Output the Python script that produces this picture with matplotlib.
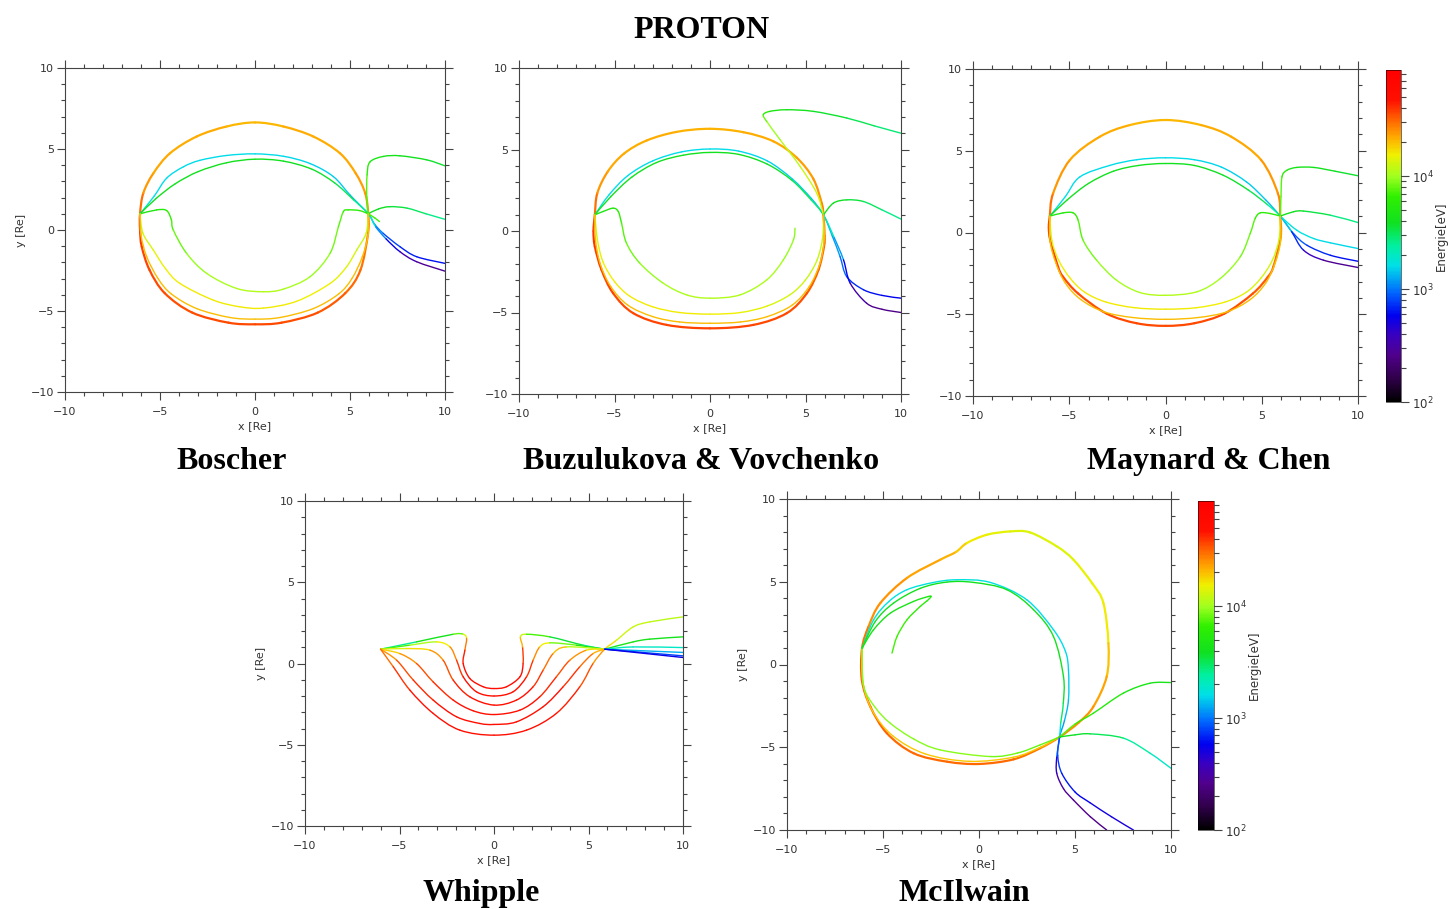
import numpy as np
import matplotlib
matplotlib.use("Agg")
import matplotlib.pyplot as plt
from matplotlib.collections import PatchCollection
from matplotlib.patches import PathPatch
from matplotlib.path import Path
from matplotlib.colors import LinearSegmentedColormap, LogNorm
from matplotlib.cm import ScalarMappable
from matplotlib.ticker import MultipleLocator, NullFormatter

# energy range of the colour scale [eV]
E_MIN, E_MAX = 1e2, 8.7e4

# proton drift paths, one list per field model: each path is a list of (x [Re], y [Re], energy [eV])
boscher = [
    [(-6.05, 1.0, 3.4e4), (-5.88, 2.27, 2.6e4), (-5.35, 3.5, 2.3e4), (-4.47, 4.74, 2.2e4), (-3.07, 5.77, 2.2e4),
     (-1.49, 6.39, 2.1e4), (0, 6.64, 2.0e4), (1.49, 6.39, 2.1e4), (3.07, 5.77, 2.2e4), (4.47, 4.74, 2.2e4),
     (5.3, 3.5, 2.3e4), (5.8, 2.27, 2.4e4), (5.96, 1.0, 2.6e4), (5.95, -0.2, 2.8e4), (5.55, -2.47, 3.0e4),
     (4.75, -3.9, 3.2e4), (3.3, -5.1, 3.4e4), (1.4, -5.72, 3.5e4), (0, -5.82, 3.6e4), (-1.4, -5.72, 3.6e4),
     (-3.3, -5.1, 3.5e4), (-4.75, -3.9, 3.5e4), (-5.55, -2.47, 3.6e4), (-5.96, -1.03, 3.8e4), (-6.05, 0.0, 4.0e4),
     (-6.05, 1.0, 3.4e4)],
    [(-6.05, 1.0, 1.7e3), (-5.3, 2.1, 1.6e3), (-4.65, 3.2, 1.6e3), (-3.77, 3.9, 1.6e3), (-2.9, 4.3, 1.6e3),
     (-1.5, 4.6, 1.6e3), (0, 4.7, 1.6e3), (1.5, 4.55, 1.6e3), (2.9, 4.1, 1.5e3), (4.12, 3.3, 1.5e3),
     (5.0, 2.16, 1.4e3), (5.96, 1.0, 1.3e3), (6.3, 0.35, 1.2e3), (6.75, -0.21, 9e2), (7.63, -1.03, 7e2),
     (8.51, -1.65, 6.5e2), (10, -2.06, 6e2)],
    [(-6.05, 1.0, 4e3), (-5.2, 1.95, 4e3), (-4.2, 2.85, 4e3), (-3.0, 3.6, 4e3), (-1.5, 4.15, 4e3),
     (0, 4.37, 4e3), (1.5, 4.25, 4e3), (3.0, 3.75, 3.8e3), (4.2, 2.9, 3.5e3), (5.2, 1.85, 3e3),
     (5.96, 1.0, 2.2e3), (6.35, 0.2, 1.5e3), (6.9, -0.55, 8e2), (7.63, -1.34, 4e2), (8.51, -1.96, 3e2),
     (10, -2.54, 2.6e2)],
    [(5.96, 1.0, 7e3), (5.88, 2.06, 8e3), (5.9, 3.4, 7e3), (6.05, 4.2, 5e3), (6.75, 4.54, 4.5e3),
     (7.63, 4.58, 4.2e3), (9.04, 4.33, 3.8e3), (10, 3.96, 3.5e3)],
    [(5.96, 1.0, 4e3), (6.5, 1.3, 4e3), (7.1, 1.44, 3.8e3), (8.0, 1.35, 3.3e3), (9.0, 1.0, 2.8e3), (10, 0.66, 2.5e3)],
    [(5.96, 1.0, 7e3), (6.3, 0.75, 7e3), (6.55, 0.52, 7e3)],
    [(-6.05, 1.0, 5e3), (-5.18, 1.24, 5e3), (-4.65, 1.2, 6e3), (-4.4, 0.62, 7e3), (-4.3, 0.0, 7.5e3),
     (-3.6, -1.44, 9e3), (-2.54, -2.68, 1.0e4), (-0.96, -3.61, 1.1e4), (0.44, -3.81, 1.1e4), (1.49, -3.65, 1.1e4),
     (2.89, -2.89, 1.0e4), (3.95, -1.44, 9e3), (4.39, 0.2, 8e3), (4.65, 1.13, 7e3), (4.9, 1.24, 6e3),
     (5.5, 1.2, 6e3), (5.96, 1.0, 6e3)],
    [(-6.05, 1.0, 1.2e4), (-5.9, -0.2, 1.3e4), (-5.35, -1.24, 1.4e4), (-4.7, -2.4, 1.5e4), (-3.95, -3.3, 1.6e4),
     (-2.19, -4.33, 1.6e4), (-0.79, -4.74, 1.6e4), (0.44, -4.82, 1.6e4), (2.19, -4.4, 1.6e4), (3.95, -3.3, 1.5e4),
     (4.8, -2.3, 1.4e4), (5.35, -1.24, 1.3e4), (5.85, -0.2, 1.2e4), (5.96, 1.0, 1.2e4)],
    [(-6.05, 1.0, 2e4), (-6.0, -0.3, 2e4), (-5.7, -1.65, 2e4), (-5.1, -3.0, 2e4), (-4.4, -3.95, 2e4),
     (-3.07, -4.85, 2e4), (-1.32, -5.4, 2e4), (0, -5.5, 2e4), (1.32, -5.4, 2e4), (3.07, -4.85, 2e4),
     (4.4, -3.95, 2e4), (5.1, -3.0, 2e4), (5.65, -1.65, 2e4), (5.95, -0.3, 2e4), (5.96, 1.0, 2e4)],
]

buzulukova = [
    [(-6.03, 0.99, 3.4e4), (-5.9, 2.32, 2.6e4), (-5.35, 3.65, 2.3e4), (-4.5, 4.75, 2.2e4), (-3.32, 5.55, 2.2e4),
     (-1.75, 6.08, 2.1e4), (0, 6.27, 2.1e4), (1.75, 6.06, 2.1e4), (3.32, 5.5, 2.2e4), (4.54, 4.5, 2.3e4),
     (5.41, 3.2, 2.4e4), (5.85, 1.7, 2.6e4), (5.94, 0.99, 2.8e4), (6.0, -0.3, 3.0e4), (5.97, -0.95, 3.1e4),
     (5.68, -2.38, 3.3e4), (5.07, -3.82, 3.4e4), (4.02, -5.04, 3.5e4), (2.27, -5.76, 3.6e4), (0, -5.97, 3.7e4),
     (-2.27, -5.76, 3.7e4), (-4.02, -5.04, 3.6e4), (-5.07, -3.82, 3.6e4), (-5.68, -2.38, 3.7e4),
     (-6.03, -0.95, 3.9e4), (-6.1, 0.0, 4.0e4), (-6.03, 0.99, 3.4e4)],
    [(-6.03, 0.99, 1.7e3), (-5.3, 2.2, 1.6e3), (-4.3, 3.4, 1.6e3), (-3.0, 4.3, 1.6e3), (-1.5, 4.85, 1.6e3),
     (0, 5.03, 1.6e3), (1.5, 4.9, 1.6e3), (3.0, 4.3, 1.5e3), (4.3, 3.2, 1.5e3), (5.3, 2.0, 1.4e3),
     (5.94, 0.99, 1.4e3), (6.4, -0.3, 1.3e3), (6.81, -1.57, 1.1e3), (7.16, -2.8, 8e2), (8.03, -3.6, 6.5e2),
     (9.0, -3.95, 6e2), (10, -4.12, 5.5e2)],
    [(-6.03, 0.99, 4e3), (-5.2, 2.1, 4e3), (-4.1, 3.3, 4e3), (-2.8, 4.2, 4e3), (-1.4, 4.65, 4e3),
     (0, 4.82, 4e3), (1.5, 4.7, 4e3), (3.0, 4.1, 3.8e3), (4.3, 3.1, 3.5e3), (5.3, 1.9, 3e3),
     (5.94, 0.99, 2.5e3), (6.5, -0.4, 1.6e3), (6.99, -1.77, 9e2), (7.34, -3.2, 4e2), (8.2, -4.43, 2.8e2),
     (9.0, -4.8, 2.6e2), (10, -5.0, 2.5e2)],
    [(5.94, 0.99, 1.3e4), (5.59, 2.32, 1.3e4), (4.72, 3.96, 1.2e4), (3.67, 5.6, 1.1e4), (2.97, 6.72, 9e3),
     (2.79, 7.13, 7e3), (3.14, 7.34, 5e3), (4.02, 7.44, 4.5e3), (5.41, 7.34, 4e3), (7.16, 6.93, 3.5e3),
     (8.6, 6.45, 3e3), (10, 6.0, 2.7e3)],
    [(5.94, 0.99, 4e3), (6.46, 1.71, 4e3), (7.16, 1.91, 3.8e3), (8.03, 1.81, 3.3e3), (9.0, 1.3, 2.8e3),
     (10, 0.73, 2.5e3)],
    [(-6.03, 0.99, 5e3), (-5.59, 1.2, 5e3), (-5.07, 1.4, 5e3), (-4.8, 1.19, 6e3), (-4.63, 0.48, 7e3),
     (-4.37, -0.75, 8e3), (-3.67, -1.98, 9e3), (-2.45, -3.2, 1e4), (-1.22, -3.92, 1.1e4), (0, -4.12, 1.1e4),
     (1.57, -3.92, 1.1e4), (2.97, -3.0, 1.05e4), (3.84, -1.77, 1e4), (4.37, -0.54, 9e3), (4.45, 0.17, 9e3)],
    [(-6.03, 0.99, 1.2e4), (-5.9, -0.5, 1.4e4), (-5.6, -1.9, 1.5e4), (-5.0, -3.1, 1.6e4), (-4.2, -4.0, 1.6e4),
     (-3.0, -4.65, 1.6e4), (-1.6, -5.0, 1.6e4), (0, -5.1, 1.6e4), (1.6, -5.0, 1.5e4), (3.0, -4.6, 1.4e4),
     (4.2, -3.9, 1.3e4), (5.0, -3.0, 1.25e4), (5.6, -1.8, 1.2e4), (5.9, -0.4, 1.2e4), (5.94, 0.99, 1.2e4)],
    [(-6.03, 0.99, 2e4), (-6.0, -0.5, 2e4), (-5.75, -2.0, 2e4), (-5.2, -3.4, 2e4), (-4.3, -4.55, 2e4),
     (-3.0, -5.25, 2e4), (-1.6, -5.58, 2e4), (0, -5.66, 2e4), (1.6, -5.58, 2e4), (3.0, -5.25, 2e4),
     (4.3, -4.55, 2e4), (5.2, -3.4, 2e4), (5.75, -2.0, 2e4), (5.98, -0.5, 2e4), (5.94, 0.99, 2e4)],
]

maynard = [
    [(-6.01, 1.0, 3.4e4), (-5.84, 2.39, 2.6e4), (-4.97, 4.43, 2.3e4), (-3.41, 5.86, 2.2e4), (-1.85, 6.57, 2.1e4),
     (0, 6.88, 2.0e4), (1.85, 6.57, 2.1e4), (3.41, 5.86, 2.2e4), (4.97, 4.43, 2.3e4), (5.84, 2.39, 2.5e4),
     (5.96, 1.0, 2.7e4), (5.98, -0.3, 2.9e4), (5.6, -2.1, 3.1e4), (5.32, -2.71, 3.2e4), (4.54, -3.73, 3.4e4),
     (3.06, -4.96, 3.5e4), (1.5, -5.55, 3.6e4), (0, -5.71, 3.6e4), (-1.5, -5.55, 3.6e4), (-3.06, -4.96, 3.5e4),
     (-4.54, -3.73, 3.5e4), (-5.32, -2.71, 3.6e4), (-5.58, -2.1, 3.7e4), (-5.98, -0.5, 3.9e4),
     (-6.06, 0.3, 4.0e4), (-6.01, 1.0, 3.4e4)],
    [(-6.01, 1.0, 1.7e3), (-5.2, 2.2, 1.6e3), (-4.45, 3.4, 1.6e3), (-2.9, 4.1, 1.6e3), (-1.5, 4.45, 1.6e3),
     (0, 4.57, 1.6e3), (1.5, 4.45, 1.6e3), (2.9, 4.0, 1.5e3), (4.2, 3.1, 1.5e3), (5.2, 2.0, 1.4e3),
     (5.96, 1.0, 1.3e3), (6.65, -0.06, 1e3), (7.35, -0.78, 8e2), (8.56, -1.39, 6.5e2), (10, -1.76, 6e2)],
    [(-6.01, 1.0, 4e3), (-5.1, 2.0, 4e3), (-4.0, 3.0, 4e3), (-2.7, 3.75, 4e3), (-1.4, 4.1, 4e3),
     (0, 4.22, 4e3), (1.5, 4.1, 4e3), (3.0, 3.5, 3.8e3), (4.3, 2.6, 3.5e3), (5.3, 1.7, 3e3),
     (5.96, 1.0, 2e3), (6.55, 0.05, 1e3), (7.17, -1.08, 5e2), (8.2, -1.69, 3e2), (10, -2.14, 2.6e2)],
    [(5.96, 1.0, 1.8e3), (6.82, 0.14, 1.7e3), (7.7, -0.37, 1.6e3), (8.56, -0.63, 1.6e3), (10, -0.98, 1.5e3)],
    [(5.96, 1.0, 7e3), (6.0, 2.2, 8e3), (6.05, 3.4, 7e3), (6.3, 3.8, 5e3), (6.82, 3.98, 4.5e3),
     (7.7, 3.98, 4.2e3), (8.8, 3.75, 3.8e3), (10, 3.47, 3.5e3)],
    [(5.96, 1.0, 4e3), (6.65, 1.27, 4e3), (7.17, 1.31, 3.8e3), (8.56, 1.06, 3e3), (10, 0.61, 2.4e3)],
    [(-6.01, 1.0, 5e3), (-5.32, 1.2, 5e3), (-4.8, 1.2, 6e3), (-4.54, 0.76, 7e3), (-4.28, -0.47, 8e3),
     (-3.58, -1.69, 9e3), (-2.54, -2.92, 1e4), (-1.33, -3.67, 1.1e4), (0, -3.84, 1.1e4), (1.62, -3.63, 1.1e4),
     (2.84, -2.82, 1e4), (3.88, -1.49, 9e3), (4.4, -0.06, 8e3), (4.66, 0.86, 7e3), (4.92, 1.2, 6e3),
     (5.44, 1.16, 6e3), (5.96, 1.0, 6e3)],
    [(-6.01, 1.0, 1.2e4), (-5.9, -0.5, 1.4e4), (-5.55, -1.7, 1.5e4), (-4.95, -2.8, 1.6e4), (-4.2, -3.65, 1.6e4),
     (-3.1, -4.25, 1.6e4), (-1.6, -4.6, 1.6e4), (0, -4.69, 1.6e4), (1.6, -4.6, 1.6e4), (3.1, -4.25, 1.5e4),
     (4.2, -3.65, 1.4e4), (4.95, -2.8, 1.3e4), (5.55, -1.7, 1.3e4), (5.9, -0.4, 1.2e4), (5.96, 1.0, 1.2e4)],
    [(-6.01, 1.0, 2e4), (-6.0, -0.5, 2e4), (-5.7, -1.85, 2e4), (-5.2, -3.1, 2e4), (-4.4, -4.1, 2e4),
     (-3.2, -4.85, 2e4), (-1.7, -5.2, 2e4), (0, -5.31, 2e4), (1.7, -5.2, 2e4), (3.2, -4.85, 2e4),
     (4.4, -4.1, 2e4), (5.2, -3.1, 2e4), (5.7, -1.85, 2e4), (5.98, -0.5, 2e4), (5.96, 1.0, 2e4)],
]

whipple = [
    [(-6.0, 0.88, 2.2e3), (-4.1, 1.33, 3e3), (-2.16, 1.8, 6e3), (-1.63, 1.8, 1e4), (-1.45, 1.54, 2e4),
     (-1.54, 0.82, 4e4), (-1.63, 0.0, 5e4), (-1.28, -0.92, 5.5e4), (-0.57, -1.43, 5.5e4), (0, -1.54, 5.5e4),
     (0.66, -1.43, 5.5e4), (1.37, -0.82, 5.5e4), (1.54, 0.0, 5e4), (1.51, 1.02, 3e4), (1.4, 1.64, 1.5e4),
     (1.72, 1.8, 1e4), (2.95, 1.64, 5e3), (4.71, 1.13, 2.5e3), (5.86, 0.88, 2e3)],
    [(-6.0, 0.88, 6e3), (-4.45, 1.13, 9e3), (-3.04, 1.33, 1.2e4), (-2.33, 1.02, 2e4), (-1.98, 0.2, 3.5e4),
     (-1.63, -0.82, 4.5e4), (-0.93, -1.74, 5e4), (0, -2.0, 5e4), (1.01, -1.74, 5e4), (1.72, -0.82, 4.5e4),
     (2.07, 0.2, 3.5e4), (2.42, 1.02, 2e4), (2.95, 1.27, 1.2e4), (4.36, 1.13, 6e3), (5.86, 0.88, 4e3)],
    [(-6.0, 0.88, 1.2e4), (-4.63, 0.92, 1.5e4), (-3.39, 0.82, 2e4), (-2.69, 0.2, 3e4), (-2.16, -1.02, 4e4),
     (-1.28, -2.05, 5e4), (0, -2.56, 5e4), (1.19, -2.25, 5e4), (2.07, -1.43, 4.5e4), (2.6, -0.41, 3.5e4),
     (3.13, 0.61, 2.5e4), (3.83, 1.02, 1.6e4), (5.86, 0.88, 8e3)],
    [(-6.0, 0.88, 1.6e4), (-4.98, 0.61, 2e4), (-4.1, 0.0, 3e4), (-3.22, -1.13, 4e4), (-2.16, -2.25, 4.5e4),
     (-1.1, -2.91, 5e4), (0, -3.14, 5e4), (1.37, -2.87, 5e4), (2.42, -2.05, 4.5e4), (3.3, -0.82, 4e4),
     (4.01, 0.2, 3e4), (4.89, 0.82, 2e4), (5.86, 0.88, 1.4e4)],
    [(-6.0, 0.88, 2e4), (-5.15, 0.2, 3e4), (-4.27, -1.02, 4e4), (-3.22, -2.25, 4.5e4), (-1.98, -3.28, 5e4),
     (-0.75, -3.69, 5e4), (0, -3.75, 5.5e4), (1.19, -3.59, 5e4), (2.6, -2.66, 5e4), (3.66, -1.43, 4.5e4),
     (4.54, -0.2, 3.5e4), (5.24, 0.61, 2.5e4), (5.86, 0.88, 1.8e4)],
    [(-6.0, 0.88, 2.5e4), (-5.33, -0.2, 3.5e4), (-4.45, -1.64, 4.5e4), (-3.22, -3.07, 5e4), (-1.81, -4.1, 5e4),
     (0, -4.41, 5e4), (1.72, -4.1, 5e4), (3.3, -3.07, 5e4), (4.54, -1.43, 4e4), (5.24, 0.0, 3e4),
     (5.86, 0.88, 2e4), (6.48, 1.43, 1.4e4), (7.36, 2.25, 1.2e4), (8.24, 2.56, 1.2e4), (10, 2.87, 1.1e4)],
    [(5.86, 0.88, 5e3), (7.36, 1.33, 4.5e3), (8.24, 1.5, 4.5e3), (10, 1.64, 4e3)],
    [(5.86, 0.88, 2.2e3), (7.36, 1.02, 2e3), (10, 0.98, 1.9e3)],
    [(5.86, 0.88, 1.4e3), (10, 0.68, 1.2e3)],
    [(5.86, 0.88, 9e2), (10, 0.47, 7e2)],
    [(5.86, 0.88, 6e2), (10, 0.37, 5e2)],
]

mcilwain = [
    [(-6.09, 0.99, 3.2e4), (-5.75, 2.3, 2.6e4), (-5.14, 3.71, 2.5e4), (-3.75, 5.23, 2.4e4), (-2.02, 6.33, 2.2e4),
     (-1.2, 6.8, 2.0e4), (-0.63, 7.34, 1.7e4), (0.41, 7.84, 1.5e4), (1.62, 8.04, 1.4e4), (2.66, 7.98, 1.4e4),
     (4.05, 7.14, 1.4e4), (4.92, 6.33, 1.4e4), (5.9, 4.9, 1.5e4), (6.48, 3.71, 1.5e4), (6.74, 1.29, 1.7e4),
     (6.65, -0.73, 2.2e4), (5.96, -2.54, 2.4e4), (5.2, -3.5, 2.5e4), (4.2, -4.38, 2.6e4), (3.18, -5.06, 2.8e4),
     (1.8, -5.73, 3.0e4), (0, -6.01, 3.1e4), (-1.67, -5.87, 3.1e4), (-3.41, -5.36, 3.1e4), (-4.8, -4.15, 3.1e4),
     (-5.66, -2.54, 3.2e4), (-6.1, -0.93, 3.4e4), (-6.09, 0.99, 3.2e4)],
    [(-6.09, 0.99, 1.9e4), (-6.05, -1.1, 1.9e4), (-5.55, -2.8, 1.9e4), (-4.5, -4.3, 1.9e4), (-2.8, -5.4, 1.9e4),
     (-0.5, -5.85, 1.9e4), (1.8, -5.6, 1.9e4), (3.2, -5.0, 1.9e4), (4.2, -4.38, 1.9e4)],
    [(-6.09, 0.99, 9e3), (-6.0, -1.33, 9e3), (-5.4, -2.6, 9e3), (-4.62, -3.55, 9e3), (-3.4, -4.5, 9e3),
     (-2.02, -5.16, 9e3), (0.58, -5.56, 9e3), (2.0, -5.35, 8e3), (3.18, -4.86, 8e3), (4.2, -4.38, 8e3)],
    [(-6.09, 0.99, 1.7e3), (-5.49, 2.7, 1.7e3), (-4.7, 3.8, 1.7e3), (-3.75, 4.52, 1.7e3), (-2.4, 4.95, 1.7e3),
     (-1.15, 5.12, 1.7e3), (0.58, 4.96, 1.7e3), (2.49, 3.91, 1.6e3), (3.88, 2.1, 1.6e3), (4.5, 0.8, 1.6e3),
     (4.66, -0.32, 1.5e3), (4.66, -2.14, 1.4e3), (4.45, -3.4, 1.3e3), (4.2, -4.38, 1.1e3), (4.1, -5.5, 8e2),
     (4.31, -6.57, 7e2), (5.0, -7.7, 6e2), (5.78, -8.35, 5.5e2), (6.9, -9.2, 5e2), (8.04, -10, 5e2)],
    [(-6.09, 0.99, 4e3), (-5.4, 2.6, 4e3), (-4.45, 3.71, 4e3), (-3.06, 4.6, 4e3), (-1.67, 4.98, 4e3),
     (-0.29, 4.96, 4e3), (1.45, 4.52, 4e3), (2.84, 3.31, 4e3), (3.88, 1.69, 4e3), (4.4, -0.73, 4e3),
     (4.39, -2.35, 3.5e3), (4.25, -3.6, 2.5e3), (4.2, -4.38, 1.2e3), (4.05, -5.6, 6e2), (4.05, -6.57, 3.5e2),
     (4.4, -7.5, 3e2), (4.92, -8.19, 2.7e2), (5.8, -9.2, 2.5e2), (6.65, -10, 2.5e2)],
    [(-6.09, 0.99, 4.5e3), (-5.49, 2.1, 4.5e3), (-4.62, 3.1, 4.5e3), (-3.41, 3.81, 4.5e3), (-2.63, 4.11, 5e3),
     (-2.5, 4.1, 5e3), (-2.7, 3.85, 5.5e3), (-3.06, 3.51, 6e3), (-3.75, 2.7, 6.5e3), (-4.27, 1.69, 7e3),
     (-4.53, 0.69, 7e3)],
    [(4.2, -4.38, 8e3), (5.0, -3.6, 7e3), (5.96, -2.94, 6e3), (7.52, -1.73, 5e3), (8.91, -1.13, 4.5e3),
     (10, -1.09, 4.3e3)],
    [(4.2, -4.38, 4e3), (5.0, -4.25, 4e3), (5.79, -4.19, 3.5e3), (7.52, -4.45, 2.8e3), (8.91, -5.36, 2.1e3),
     (10, -6.27, 1.8e3)],
]

panel_names = ["Boscher", "Buzulukova & Vovchenko", "Maynard & Chen", "Whipple", "McIlwain"]

# rainbow colour table, black at the low end
rainbow = LinearSegmentedColormap.from_list("rainbow_black", [
    (0.00, "#000000"), (0.07, "#30004a"), (0.14, "#50008c"), (0.20, "#3a00c0"), (0.26, "#0000f0"),
    (0.33, "#0068ff"), (0.41, "#00e0e8"), (0.47, "#00f0a0"), (0.54, "#10e020"), (0.62, "#30f000"),
    (0.68, "#a0ff20"), (0.745, "#f0f000"), (0.80, "#ffa800"), (0.86, "#ff5800"), (0.91, "#ff1000"),
    (1.00, "#ff0000")])
norm = LogNorm(vmin=E_MIN, vmax=E_MAX)

W, H = 1450, 909
fig = plt.figure(figsize=(W / 100, H / 100), dpi=100)


def px_box(left, right, top, bottom):
    return [left / W, 1 - bottom / H, (right - left) / W, (bottom - top) / H]


def smooth_pieces(pts):
    # one cubic Bezier piece per pair of waypoints (Catmull-Rom tangents)
    n = len(pts)
    closed = np.allclose(pts[0], pts[-1])
    pieces = []
    for i in range(n - 1):
        a, b = pts[i], pts[i + 1]
        prev = pts[i - 1] if i > 0 else (pts[n - 2] if closed else a)
        nxt = pts[i + 2] if i + 2 < n else (pts[1] if closed else b)
        c1 = a + (b - prev) / 6.0
        c2 = b - (nxt - a) / 6.0
        pieces.append(Path([a, c1, c2, b], [Path.MOVETO, Path.CURVE4, Path.CURVE4, Path.CURVE4]))
    return pieces


def draw_paths(ax, paths, heavy_first):
    for i, path in enumerate(paths):
        pts = np.array(path, dtype=float)
        pieces = smooth_pieces(pts[:, :2])
        energy = np.sqrt(pts[:-1, 2] * pts[1:, 2])
        lw = 1.6 if (heavy_first and i == 0) else 1.0
        pc = PatchCollection([PathPatch(p) for p in pieces], facecolors="none",
                             edgecolors=rainbow(norm(energy)), linewidths=lw,
                             capstyle="round", joinstyle="round")
        ax.add_collection(pc)


def style_axes(ax, ylabel):
    ax.set_xlim(-10, 10)
    ax.set_ylim(-10, 10)
    for axis in (ax.xaxis, ax.yaxis):
        axis.set_major_locator(MultipleLocator(5))
        axis.set_minor_locator(MultipleLocator(1))
    ax.tick_params(which="both", direction="out", top=True, right=True,
                   color="#444444", labelcolor="#333333", labelsize=8, width=0.8)
    ax.tick_params(which="major", length=5.5)
    ax.tick_params(which="minor", length=2.8)
    ax.tick_params(axis="x", pad=5)
    ax.tick_params(axis="y", pad=2.5)
    for s in ax.spines.values():
        s.set_color("#444444")
        s.set_linewidth(0.8)
    ax.set_xlabel("x [Re]", fontsize=8, color="#333333", labelpad=3)
    if ylabel:
        ax.set_ylabel("y [Re]", fontsize=8, color="#333333", labelpad=3)


def add_colorbar(box):
    cax = fig.add_axes(box)
    cb = fig.colorbar(ScalarMappable(norm=norm, cmap=rainbow), cax=cax)
    cb.outline.set_linewidth(0.4)
    cb.ax.yaxis.set_minor_formatter(NullFormatter())
    cb.ax.tick_params(which="major", length=6, width=0.8, color="#444444",
                      labelcolor="#333333", labelsize=8.5, pad=2)
    cb.ax.tick_params(which="minor", length=3.5, width=0.8, color="#444444")
    cb.set_label("Energie[eV]", fontsize=8.5, color="#333333", labelpad=1)


panels = [
    (boscher, px_box(65, 445, 68, 392), True, True),
    (buzulukova, px_box(519, 901, 68, 394), False, True),
    (maynard, px_box(973, 1358, 69, 396), False, True),
    (whipple, px_box(305, 683, 501, 826), True, False),
    (mcilwain, px_box(787, 1171, 499, 830), True, True),
]

for paths, box, ylab, heavy in panels:
    ax = fig.add_axes(box)
    draw_paths(ax, paths, heavy)
    style_axes(ax, ylab)

add_colorbar(px_box(1386, 1401, 70, 402))
add_colorbar(px_box(1198, 1214, 501, 830))

title_font = dict(family="Liberation Serif", fontweight="bold", fontsize=23, ha="center", va="baseline")
fig.text(701 / W, 1 - 38 / H, "PROTON", **title_font)
for name, (cx, by) in zip(panel_names, [(232, 469), (701, 469), (1209, 469), (481, 901), (964, 901)]):
    fig.text(cx / W, 1 - by / H, name, **title_font)

fig.savefig("out.png", dpi=100)
